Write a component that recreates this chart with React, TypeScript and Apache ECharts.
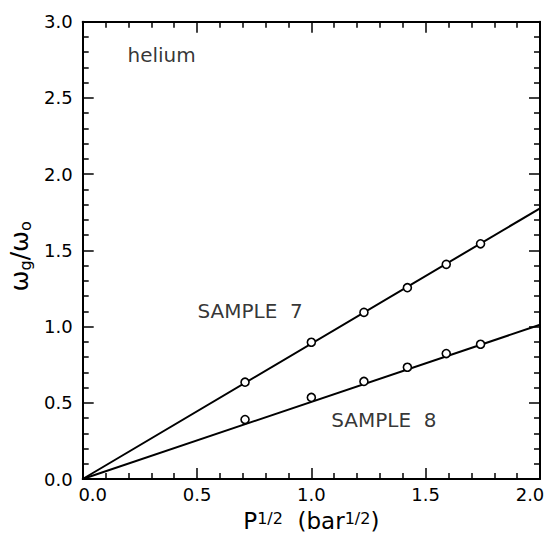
import React, { useEffect, useRef } from "react";
import * as echarts from "echarts";

// Square root of pressure, P^{1/2} (bar^{1/2})
const sqrtP = [0.71, 1.0, 1.23, 1.42, 1.59, 1.74];
// omega_g / omega_o measured
const sample7 = [0.635, 0.897, 1.093, 1.255, 1.408, 1.543];
const sample8 = [0.39, 0.535, 0.64, 0.733, 0.823, 0.884];
// Straight-line fits through the origin: [x, y] end points
const fit7 = [[0, 0], [2.0, 1.776]];
const fit8 = [[0, 0], [2.0, 1.012]];
// Text annotations in data coordinates [x, y, text]
const annotations: [number, number, string][] = [
  [0.198, 2.71, "helium"],
  [0.504, 1.036, "SAMPLE  7"],
  [1.089, 0.315, "SAMPLE  8"],
];
const xTickLabels = ["0.0", "0.5", "1.0", "1.5", "2.0"];
const yTickLabels = ["0.0", "0.5", "1.0", "1.5", "2.0", "2.5", "3.0"];
const X_MIN = 0, X_MAX = 2, Y_MIN = 0, Y_MAX = 3;

const FONT = "DejaVu Sans";

export default function App() {
  const ref = useRef<HTMLDivElement>(null);
  useEffect(() => {
    if (!ref.current) return;
    const chart = echarts.init(ref.current, undefined, { renderer: "svg" });
    const labelStyle = { fontFamily: FONT, fontSize: 18, color: "#000" };
    // each axis gets its own option objects; negative lengths point ticks into the plot
    const base = (onZero: boolean) => ({
      type: "value" as const,
      interval: 0.5,
      axisLine: { show: true, onZero, lineStyle: { color: "#000", width: 2 } },
      axisTick: { show: true, inside: false, length: -11, lineStyle: { color: "#000", width: 1.5 } },
      minorTick: { show: true, splitNumber: 5, length: -6, lineStyle: { color: "#000", width: 1.5 } },
      splitLine: { show: false },
      minorSplitLine: { show: false },
    });
    const option: any = {
      animation: false,
      backgroundColor: "#fff",
      grid: { left: 82.7, right: 13, top: 21.7, bottom: 54, containLabel: false, outerBoundsMode: "none" },
      xAxis: [
        {
          ...base(true),
          position: "bottom",
          min: X_MIN,
          max: X_MAX,
          name: "{m|P}{u|1/2}{m|  (bar}{u|1/2}{m|)}",
          nameLocation: "middle",
          nameGap: 31,
          nameTextStyle: {
            fontFamily: FONT,
            color: "#000",
            rich: {
              m: { fontFamily: FONT, fontSize: 23, lineHeight: 22, color: "#000" },
              u: { fontFamily: FONT, fontSize: 16, lineHeight: 16, verticalAlign: "top", color: "#000" },
            },
          },
          axisLabel: {
            ...labelStyle,
            margin: 6,
            hideOverlap: false,
            showMinLabel: true,
            showMaxLabel: true,
            formatter: (v: number) => {
              const i = Math.round(v / 0.5);
              const t = xTickLabels[i] ?? v.toFixed(1);
              if (i === 0) return "{l|" + t + "}";
              if (i === xTickLabels.length - 1) return "{r|" + t + "}";
              return t;
            },
            rich: {
              l: { ...labelStyle, padding: [0, 0, 0, 20] },
              r: { ...labelStyle, padding: [0, 20, 0, 0] },
            },
          },
        },
        { ...base(false), position: "top", min: X_MIN, max: X_MAX, axisLabel: { show: false } },
      ],
      yAxis: [
        {
          ...base(true),
          position: "left",
          min: Y_MIN,
          max: Y_MAX,
          name: "{w|ω}{s|g}{w|/ω}{s|o}",
          nameLocation: "middle",
          nameGap: 46,
          nameTextStyle: {
            fontFamily: FONT,
            color: "#000",
            padding: [0, 12, 0, 0],
            rich: {
              w: { fontFamily: FONT, fontSize: 25, lineHeight: 28, color: "#000" },
              s: { fontFamily: FONT, fontSize: 16, lineHeight: 16, verticalAlign: "bottom", color: "#000" },
            },
          },
          axisLabel: {
            ...labelStyle,
            margin: 10,
            showMinLabel: true,
            showMaxLabel: true,
            formatter: (v: number) => yTickLabels[Math.round(v / 0.5)] ?? v.toFixed(1),
          },
        },
        { ...base(false), position: "right", min: Y_MIN, max: Y_MAX, axisLabel: { show: false } },
      ],
      series: [
        { type: "line", data: fit7, showSymbol: false, symbol: "none", lineStyle: { color: "#000", width: 2 }, z: 2 },
        { type: "line", data: fit8, showSymbol: false, symbol: "none", lineStyle: { color: "#000", width: 2 }, z: 2 },
        {
          type: "scatter",
          data: sqrtP.map((x, i) => [x, sample7[i]]),
          symbol: "circle",
          symbolSize: 8,
          itemStyle: { color: "#fff", borderColor: "#000", borderWidth: 1.6, opacity: 1 },
          z: 3,
        },
        {
          type: "scatter",
          data: sqrtP.map((x, i) => [x, sample8[i]]),
          symbol: "circle",
          symbolSize: 8,
          itemStyle: { color: "#fff", borderColor: "#000", borderWidth: 1.6, opacity: 1 },
          z: 3,
        },
        {
          type: "scatter",
          data: annotations.map((a) => ({ value: [a[0], a[1]], name: a[2] })),
          symbolSize: 1,
          itemStyle: { color: "rgba(0,0,0,0)" },
          silent: true,
          label: {
            show: true,
            position: [0, 0],
            align: "left",
            verticalAlign: "bottom",
            formatter: (p: any) => p.name,
            fontFamily: FONT,
            fontSize: 20,
            color: "#000",
          },
          z: 4,
        },
      ],
    };
    chart.setOption(option);
    return () => chart.dispose();
  }, []);
  return <div ref={ref} style={{ width: 553, height: 533, position: "absolute", left: 0, top: 0 }} />;
}
